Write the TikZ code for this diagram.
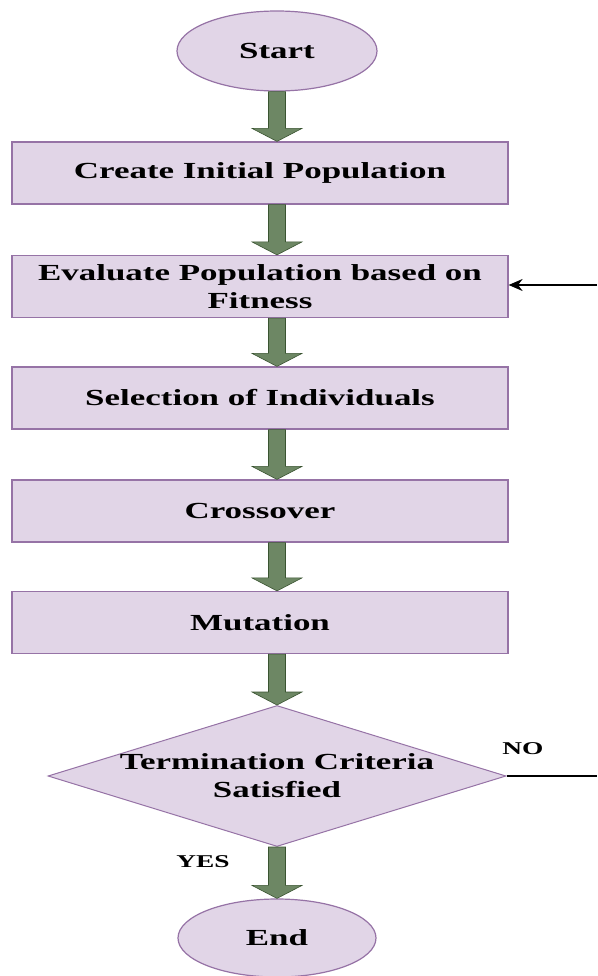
\documentclass[tikz,border=0pt]{standalone}
\usepackage{fontspec}
\setmainfont[FakeStretch=1.52]{Liberation Serif}
\usetikzlibrary{shapes.geometric, arrows.meta, calc}
\definecolor{boxfill}{RGB}{225,213,231}
\definecolor{boxline}{RGB}{150,115,166}
\definecolor{arrowfill}{RGB}{109,135,100}
\definecolor{arrowline}{RGB}{58,84,49}

% thick green arrow between two points on one vertical line
\newcommand{\fatarrow}[2]{%
  \path[blockarrow] let \p1=(#1), \p2=(#2) in
    (\x1-8.5pt,\y1) -- (\x1-8.5pt,\y2+13pt) -- (\x1-25pt,\y2+13pt) -- (\x1,\y2)
    -- (\x1+25pt,\y2+13pt) -- (\x1+8.5pt,\y2+13pt) -- (\x1+8.5pt,\y1) -- cycle;}

\begin{document}
\begin{tikzpicture}[x=1pt,y=-1pt,
    every node/.style={font=\fontsize{23}{28}\selectfont\bfseries, align=center},
    stepbox/.style={rectangle, draw=boxline, fill=boxfill, line width=1.2pt,
                    minimum width=496pt, minimum height=62pt, inner sep=0pt},
    terminal/.style={ellipse, draw=boxline, fill=boxfill, line width=1.2pt,
                     minimum width=200pt, minimum height=80pt, inner sep=0pt},
    decision/.style={diamond, aspect=3.25, draw=boxline, fill=boxfill, line width=1pt,
                     minimum width=458pt, minimum height=141pt, inner sep=0pt},
    blockarrow/.style={fill=arrowfill, draw=arrowline, line width=0.6pt},
    answer/.style={font=\fontsize{18}{20}\selectfont\bfseries},
    loopline/.style={draw=black, line width=2.2pt}]

    \path[fill=white, use as bounding box] (0,0) rectangle (597,976);

    \node[terminal] (start) at (277,51) {Start};
    \node[stepbox] (create) at (260,173) {Create Initial Population};
    \node[stepbox] (evaluate) at (260,286.5) {Evaluate Population based on\\Fitness};
    \node[stepbox] (select) at (260,398) {Selection of Individuals};
    \node[stepbox] (cross) at (260,511) {Crossover};
    \node[stepbox] (mutate) at (260,622.5) {Mutation};
    \node[decision] (term) at (277,776) {Termination Criteria\\Satisfied};
    \node[terminal, minimum width=198pt, minimum height=78pt] (end) at (277,938) {End};

    \node[answer] (no) at (523,749) {NO};
    \node[answer] (yes) at (203,862) {YES};

    \fatarrow{start.south}{create.north -| start.south}
    \fatarrow{create.south -| start.south}{evaluate.north -| start.south}
    \fatarrow{evaluate.south -| start.south}{select.north -| start.south}
    \fatarrow{select.south -| start.south}{cross.north -| start.south}
    \fatarrow{cross.south -| start.south}{mutate.north -| start.south}
    \fatarrow{mutate.south -| start.south}{term.north}
    \fatarrow{term.south}{end.north}

    \coordinate (noend) at (597,776);
    \coordinate (back) at (597,285);
    \draw[loopline] (term.east) -- (noend);
    \draw[draw=black, line width=1.6pt, -{Stealth[length=14pt, width=12pt]}] (back) -- (back -| evaluate.east);
\end{tikzpicture}
\end{document}
